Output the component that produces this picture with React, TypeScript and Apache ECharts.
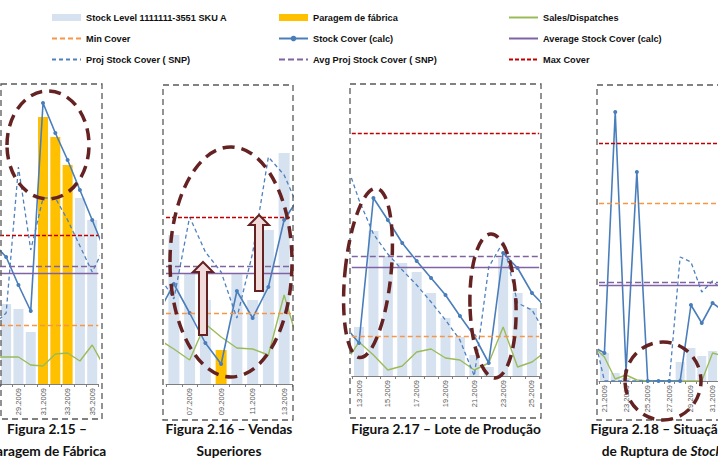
import { useEffect, useRef } from 'react';
import * as echarts from 'echarts';

// ---------- data (values = height above the axis) ----------
const p1Categories = ['27.2009', '28.2009', '29.2009', '30.2009', '31.2009', '32.2009', '33.2009', '34.2009', '35.2009', '36.2009'];
const p1StockLevel = [60, 80, 75, 52, null, null, null, 186, 164, 150];
const p1Paragem = [null, null, null, null, 267, 247, 219, null, null, null];
const p1StockCover = [140, 127, 99, 73, 281, 251, 224, 194, 164, 134];
const p1ProjCover = [60, 71, 217, 134, 186, 186, 164, 138, 112, 137];
const p1Sales = [27, 27, 27, 19, 18, 30, 31, 23, 39, 17];
const p1Levels = { max: 149, avgProj: 118, avgStock: 111, min: 59 };

const p2Categories = ['05.2009', '06.2009', '07.2009', '08.2009', '09.2009', '10.2009', '11.2009', '12.2009', '13.2009', '14.2009'];
const p2StockLevel = [130, 149, 111, 84, null, 111, 84, 154, 231, 220];
const p2Paragem = [null, null, null, null, 34, null, null, null, null, null];
const p2StockCover = [71, 100, 71, 41, 20, 93, 66, 97, 164, 188];
const p2ProjCover = [110, 85, 167, 132, 112, 66, 131, 227, 209, 173];
const p2Sales = [45, 35, 24, 60, 47, 36, 35, 29, 89, 35];
const p2Levels = { max: 167, avgProj: 118, avgStock: 111, min: 71 };

const p3Categories = ['12.2009', '13.2009', '14.2009', '15.2009', '16.2009', '17.2009', '18.2009', '19.2009', '20.2009', '21.2009', '22.2009', '23.2009', '24.2009', '25.2009', '26.2009'];
const p3StockLevel = [40, 49, 145, 120, 113, 104, 83, 58, 39, 21, 9, 118, 83, 68, 55];
const p3Paragem: (number | null)[] = [];
const p3StockCover = [50, 33, 178, 156, 133, 115, 98, 81, 60, 40, 13, 123, 108, 83, 68];
const p3ProjCover = [218, 176, 142, 122, 106, 91, 74, 56, 36, 0, 109, 134, 73, 66, 41];
const p3Sales = [12, 34, 21, 6, 10, 24, 27, 18, 16, 6, 13, 49, 9, 14, 25];
const p3Levels = { max: 243, avgProj: 120, avgStock: 109, min: 40 };

const p4Categories = ['20.2009', '21.2009', '22.2009', '23.2009', '24.2009', '25.2009', '26.2009', '27.2009', '28.2009', '29.2009', '30.2009', '31.2009', '32.2009'];
const p4StockLevel = [30, 28, 8, 3, 0, 0, 0, 0, 19, 33, 25, 30, 30];
const p4Paragem: (number | null)[] = [];
const p4StockCover = [34, 28, 269, 10, 209, 0, 0, 0, 0, 76, 58, 78, 70];
const p4ProjCover = [48, 0, 0, 0, 0, 0, 0, 0, 124, 119, 89, 100, 90];
const p4Sales = [34, 24, 2, 6, 1, 0, 0, 0, 0, 0, 0, 28, 25];
const p4Levels = { max: 238, avgProj: 99, avgStock: 96, min: 178 };

const legendCol1 = ['Stock Level 1111111-3551 SKU A', 'Min Cover', 'Proj Stock Cover ( SNP)'];
const legendCol2 = ['Paragem de fábrica', 'Stock Cover (calc)', 'Avg Proj Stock Cover ( SNP)'];
const legendCol3 = ['Sales/Dispatches', 'Average Stock Cover (calc)', 'Max Cover'];

const captions = [
  { lines: ['Figura 2.15 –', 'Paragem de Fábrica'], x: [47, 47] },
  { lines: ['Figura 2.16 – Vendas', 'Superiores'], x: [229, 229] },
  { lines: ['Figura 2.17 – Lote de Produção'], x: [446] },
  { lines: ['Figura 2.18 – Situação', 'de Ruptura de {i|Stock}'], x: [658, 662] },
];

// ---------- layout / styles ----------
const panelLayout = [
  { left: -12.85, width: 111.2, top: 84, height: 300, barWidth: 10, box: [1, 84, 101, 335] },
  { left: 166, width: 126, top: 85, height: 299, barWidth: 11, box: [163, 85, 130, 335] },
  { left: 351.8, width: 187.4, top: 84, height: 292, barWidth: 10, box: [350, 84, 191, 334] },
  { left: 599, width: 130.9, top: 85, height: 296, barWidth: 9, box: [597, 85, 140, 335] },
];

const C = {
  stock: '#d7e2f1',
  paragem: '#ffc000',
  sales: '#9bbb59',
  min: '#f79646',
  cover: '#4a7ebb',
  proj: '#4f81bd',
  avg: '#7f63a6',
  avgProj: '#8064a2',
  max: '#c00000',
  note: '#652222',
};

const N = {
  stock: legendCol1[0], min: legendCol1[1], proj: legendCol1[2],
  paragem: legendCol2[0], cover: legendCol2[1], avgProj: legendCol2[2],
  sales: legendCol3[0], avg: legendCol3[1], max: legendCol3[2],
};

const panels = [
  { cats: p1Categories, stock: p1StockLevel, paragem: p1Paragem, cover: p1StockCover, proj: p1ProjCover, sales: p1Sales, lv: p1Levels },
  { cats: p2Categories, stock: p2StockLevel, paragem: p2Paragem, cover: p2StockCover, proj: p2ProjCover, sales: p2Sales, lv: p2Levels },
  { cats: p3Categories, stock: p3StockLevel, paragem: p3Paragem, cover: p3StockCover, proj: p3ProjCover, sales: p3Sales, lv: p3Levels },
  { cats: p4Categories, stock: p4StockLevel, paragem: p4Paragem, cover: p4StockCover, proj: p4ProjCover, sales: p4Sales, lv: p4Levels },
];

function levelSeries(name: string, value: number, color: string, dash: any, width: number, i: number) {
  return {
    type: 'line', name, xAxisIndex: i, yAxisIndex: i, data: [], symbol: 'none',
    lineStyle: { color, width, type: dash }, itemStyle: { color },
    markLine: {
      silent: true, symbol: 'none', label: { show: false },
      lineStyle: { color, width, type: dash },
      emphasis: { disabled: true },
      data: [{ yAxis: value }],
    },
  };
}

function buildOption() {
  const grid: any[] = [];
  const xAxis: any[] = [];
  const yAxis: any[] = [];
  const series: any[] = [];
  panels.forEach((p, i) => {
    const L = panelLayout[i];
    grid.push({ left: L.left, width: L.width, top: L.top, height: L.height, show: false });
    xAxis.push({
      type: 'category', gridIndex: i, data: p.cats, min: 1, max: p.cats.length - 2, boundaryGap: true,
      axisLine: { lineStyle: { color: '#7f7f7f', width: 1 } },
      axisTick: { show: true, interval: 0, length: 3, lineStyle: { color: '#7f7f7f' } },
      axisLabel: {
        rotate: 90, fontSize: 7.5, color: '#595959', margin: 4, fontFamily: 'Liberation Sans, Arial, sans-serif',
        interval: (_: number, v: string) => parseInt(v, 10) % 2 === 1,
      },
      splitLine: { show: false },
    });
    yAxis.push({ type: 'value', gridIndex: i, min: 0, max: L.height, show: false, splitLine: { show: false } });
    series.push({ type: 'bar', name: N.stock, xAxisIndex: i, yAxisIndex: i, data: p.stock, barWidth: L.barWidth, barGap: '-100%', itemStyle: { color: C.stock } });
    series.push({ type: 'bar', name: N.paragem, xAxisIndex: i, yAxisIndex: i, data: p.paragem, barWidth: L.barWidth, barGap: '-100%', itemStyle: { color: C.paragem } });
    series.push({ type: 'line', name: N.sales, xAxisIndex: i, yAxisIndex: i, data: p.sales, symbol: 'none', lineStyle: { color: C.sales, width: 1.4 }, itemStyle: { color: C.sales } });
    series.push(levelSeries(N.min, p.lv.min, C.min, [5, 3], 1.4, i));
    series.push(levelSeries(N.max, p.lv.max, C.max, [4, 2], 1.4, i));
    series.push(levelSeries(N.avg, p.lv.avgStock, C.avg, 'solid', 1.3, i));
    series.push(levelSeries(N.avgProj, p.lv.avgProj, C.avgProj, [6, 3], 1.3, i));
    series.push({ type: 'line', name: N.proj, xAxisIndex: i, yAxisIndex: i, data: p.proj, symbol: 'none', lineStyle: { color: C.proj, width: 1.3, type: [4, 3] }, itemStyle: { color: C.proj } });
    series.push({ type: 'line', name: N.cover, xAxisIndex: i, yAxisIndex: i, data: p.cover, symbol: 'circle', symbolSize: 4, showSymbol: true, lineStyle: { color: C.cover, width: 1.6 }, itemStyle: { color: C.cover } });
  });

  const legendText = { fontSize: 9.2, fontWeight: 'bold', color: '#111111', fontFamily: "'Liberation Sans Narrow', 'Arial Narrow', 'Liberation Sans', Arial, sans-serif" };
  const mkLegend = (left: number, names: string[]) => ({
    left, top: 13, orient: 'vertical', itemWidth: 29, itemHeight: 7, itemGap: 12, padding: 0, selectedMode: false,
    textStyle: legendText,
    data: names.map((n) => {
      if (n === N.stock || n === N.paragem) return { name: n, icon: 'rect' };
      if (n === N.cover) return { name: n };
      return { name: n, itemStyle: { opacity: 0 } };
    }),
  });

  const graphic: any[] = [];
  panelLayout.forEach((L) => {
    const [x, y, w, h] = L.box;
    graphic.push({ type: 'rect', z: 50, silent: true, shape: { x, y, width: w, height: h }, style: { fill: 'none', stroke: '#595959', lineWidth: 1.3, lineDash: [6, 4] } });
  });
  const ellipses = [
    { cx: 48, cy: 145, rx: 41, ry: 54, r: 0 },
    { cx: 231, cy: 262, rx: 61, ry: 115, r: 0 },
    { cx: 368, cy: 273, rx: 23, ry: 85, r: -0.1 },
    { cx: 493, cy: 306, rx: 23, ry: 72, r: 0.03 },
    { cx: 663, cy: 381, rx: 38, ry: 39, r: 0 },
  ];
  ellipses.forEach((e) => {
    graphic.push({ type: 'ellipse', z: 60, silent: true, x: e.cx, y: e.cy, rotation: e.r, shape: { cx: 0, cy: 0, rx: e.rx, ry: e.ry }, style: { fill: 'none', stroke: C.note, lineWidth: 3.5, lineDash: [12, 7] } });
  });
  const arrows = [
    { cx: 203, tip: 262, base: 272, bottom: 335 },
    { cx: 259, tip: 215, base: 225, bottom: 291 },
  ];
  arrows.forEach((a) => {
    graphic.push({
      type: 'polygon', z: 60, silent: true,
      shape: { points: [[a.cx - 4, a.bottom], [a.cx - 4, a.base], [a.cx - 10, a.base], [a.cx, a.tip], [a.cx + 10, a.base], [a.cx + 4, a.base], [a.cx + 4, a.bottom]] },
      style: { fill: '#f2dcdb', stroke: C.note, lineWidth: 2 },
    });
  });
  const capFont = { fontFamily: 'Lato, sans-serif', fontWeight: 'bold', fontSize: 13.7 };
  captions.forEach((c) => {
    c.lines.forEach((t, k) => {
      graphic.push({
        type: 'text', z: 70, silent: true, x: c.x[k], y: 428 + k * 22,
        style: {
          text: t, textAlign: 'center', textVerticalAlign: 'middle', fill: '#111111', ...capFont,
          rich: { i: { ...capFont, fontStyle: 'italic', fill: '#111111' } },
        },
      });
    });
  });

  return {
    animation: false,
    backgroundColor: '#ffffff',
    grid, xAxis, yAxis, series,
    legend: [mkLegend(51, legendCol1), mkLegend(278, legendCol2), mkLegend(508, legendCol3)],
    graphic,
  };
}

export default function App() {
  const ref = useRef<HTMLDivElement>(null);
  useEffect(() => {
    if (!ref.current) return;
    const chart = echarts.init(ref.current, undefined, { renderer: 'svg' });
    chart.setOption(buildOption() as any);
    return () => chart.dispose();
  }, []);
  return <div ref={ref} style={{ position: 'absolute', left: 0, top: 0, width: 718, height: 466 }} />;
}
